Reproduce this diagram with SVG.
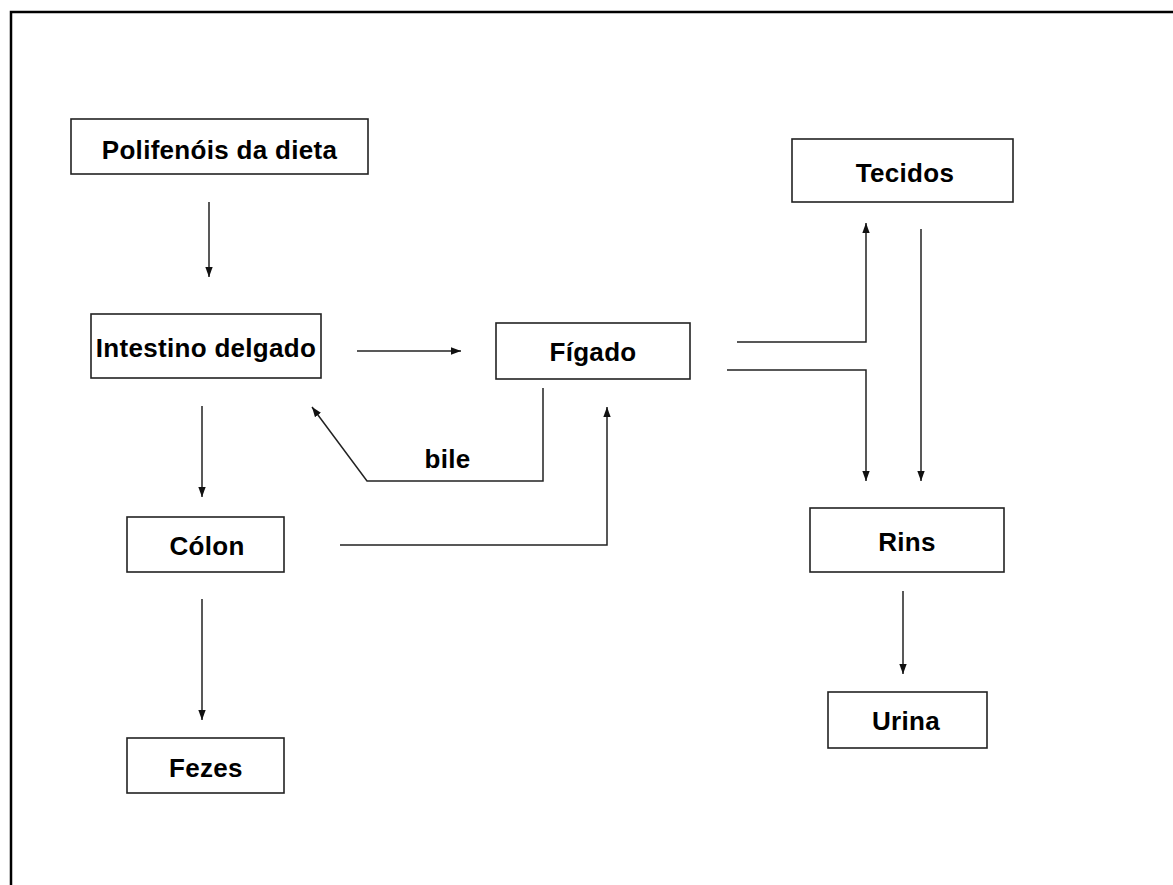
<svg xmlns="http://www.w3.org/2000/svg" width="1173" height="885" viewBox="0 0 1173 885">
<style>
.box{fill:#fff;stroke:#222;stroke-width:1.6}
.lbl{font-family:"Liberation Sans",Arial,sans-serif;font-weight:bold;font-size:26px;letter-spacing:0.3px;fill:#000;text-anchor:middle}
.ln{fill:none;stroke:#222;stroke-width:1.5}
</style>
<defs>
<marker id="ah" markerUnits="userSpaceOnUse" markerWidth="11" markerHeight="9" refX="10" refY="4.5" orient="auto">
<path d="M0,0.8 L10,4.5 L0,8.2 Z" fill="#111"/>
</marker>
</defs>
<rect x="0" y="0" width="1173" height="885" fill="#fff"/>
<rect x="11" y="12" width="1200" height="920" fill="none" stroke="#000" stroke-width="2.5"/>
<g id="n-polifenois"><rect class="box" x="71" y="119" width="297" height="55"/><text class="lbl" x="219.5" y="159">Polifenóis da dieta</text></g>
<g id="n-intestino"><rect class="box" x="91" y="314" width="230" height="64"/><text class="lbl" x="206" y="357">Intestino delgado</text></g>
<g id="n-figado"><rect class="box" x="496" y="323" width="194" height="56"/><text class="lbl" x="593" y="361">Fígado</text></g>
<g id="n-tecidos"><rect class="box" x="792" y="139" width="221" height="63"/><text class="lbl" x="905" y="182">Tecidos</text></g>
<g id="n-rins"><rect class="box" x="810" y="508" width="194" height="64"/><text class="lbl" x="907" y="551">Rins</text></g>
<g id="n-urina"><rect class="box" x="828" y="692" width="159" height="56"/><text class="lbl" x="906" y="730">Urina</text></g>
<g id="n-colon"><rect class="box" x="127" y="517" width="157" height="55"/><text class="lbl" x="207" y="555">Cólon</text></g>
<g id="n-fezes"><rect class="box" x="127" y="738" width="157" height="55"/><text class="lbl" x="206" y="777">Fezes</text></g>
<g id="connectors">
<line class="ln" x1="209" y1="202" x2="209" y2="277" marker-end="url(#ah)"/>
<line class="ln" x1="357" y1="351" x2="461" y2="351" marker-end="url(#ah)"/>
<line class="ln" x1="202" y1="406" x2="202" y2="497" marker-end="url(#ah)"/>
<line class="ln" x1="202" y1="599" x2="202" y2="720" marker-end="url(#ah)"/>
<polyline class="ln" points="543,388 543,481 367,481 312,407" marker-end="url(#ah)"/>
<text class="lbl" x="447.5" y="468">bile</text>
<polyline class="ln" points="340,545 607,545 607,407" marker-end="url(#ah)"/>
<polyline class="ln" points="737,342 866,342 866,223" marker-end="url(#ah)"/>
<polyline class="ln" points="727,370 866,370 866,481" marker-end="url(#ah)"/>
<line class="ln" x1="921" y1="229" x2="921" y2="481" marker-end="url(#ah)"/>
<line class="ln" x1="903" y1="591" x2="903" y2="674" marker-end="url(#ah)"/>
</g>
</svg>
